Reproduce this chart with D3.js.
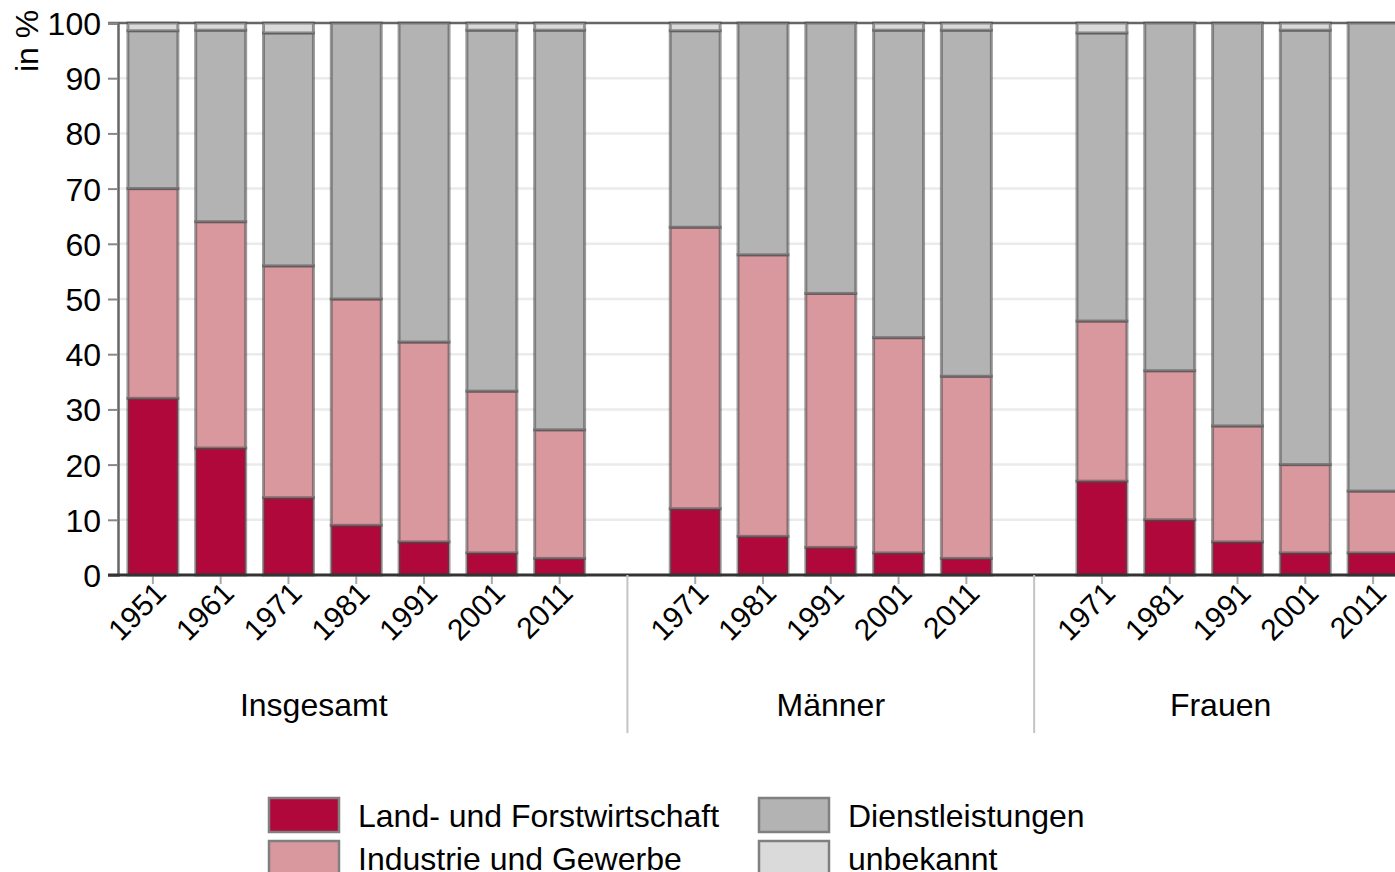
<!DOCTYPE html>
<html>
<head>
<meta charset="utf-8">
<script src="https://cdn.jsdelivr.net/npm/d3@7"></script>
<style>
  body { margin: 0; background: #fff; }
  svg { display: block; font-family: "Liberation Sans", Arial, sans-serif; }
</style>
</head>
<body>
<div class="chart"></div>
<script>
// data
var groups = ["Insgesamt", "Männer", "Frauen"];
var yearsInsgesamt = ["1951", "1961", "1971", "1981", "1991", "2001", "2011"];
var yearsMaenner = ["1971", "1981", "1991", "2001", "2011"];
var yearsFrauen = ["1971", "1981", "1991", "2001", "2011"];

var sectors = ["Land- und Forstwirtschaft", "Industrie und Gewerbe", "Dienstleistungen", "unbekannt"];

// shares in % (Insgesamt, Männer, Frauen in order)
var landForst   = [32, 23, 14, 9, 6, 4, 3,        12, 7, 5, 4, 3,        17, 10, 6, 4, 4];
var industrie   = [38, 41, 42, 41, 36.2, 29.3, 23.3,   51, 51, 46, 39, 33,   29, 27, 21, 16, 11.2];
var dienst      = [28.6, 34.7, 42.2, 50, 57.8, 65.4, 72.4,  35.6, 42, 49, 55.7, 62.7,  52.2, 63, 73, 78.7, 84.8];
var unbekannt   = [1.4, 1.3, 1.8, 0, 0, 1.3, 1.3,   1.4, 0, 0, 1.3, 1.3,   1.8, 0, 0, 1.3, 0];

var yTicks = [0, 10, 20, 30, 40, 50, 60, 70, 80, 90, 100];

var colors = ["#b0083b", "#d9979e", "#b3b3b3", "#dadada"];

// ************************************************************************************

var w = 1395;
var h = 872;
var plotTop = 23, plotBottom = 575;

// slots: bars plus one empty slot between the groups
var yearLists = [yearsInsgesamt, yearsMaenner, yearsFrauen];
var slots = [];
var rows = [];
var gapKeys = [];
var k = 0;
yearLists.forEach(function(list, g) {
    if (g > 0) {
        slots.push("gap" + g);
        gapKeys.push("gap" + g);
    }
    list.forEach(function(yr) {
        var key = g + "-" + yr;
        slots.push(key);
        rows.push({
            key: key,
            land: landForst[k],
            ind: industrie[k],
            dienst: dienst[k],
            unb: unbekannt[k]
        });
        k++;
    });
});

var scaleX = d3.scaleBand()
    .domain(slots)
    .range([119, 1407])
    .paddingInner(0.263)
    .paddingOuter(0.1315);

var scaleY = d3.scaleLinear()
    .domain([0, 100])
    .range([plotBottom, plotTop]);

var svg = d3.select(".chart")
    .append("svg")
    .attr("width", w)
    .attr("height", h);

// gridlines
svg.append("g")
    .selectAll("line")
    .data(yTicks.filter(function(d) { return d > 0 && d < 100; }))
    .enter()
    .append("line")
    .attr("x1", 118)
    .attr("x2", w)
    .attr("y1", function(d) { return scaleY(d); })
    .attr("y2", function(d) { return scaleY(d); })
    .attr("stroke", "#ebebeb")
    .attr("stroke-width", 2.5);

// top line
svg.append("line")
    .attr("x1", 108).attr("x2", w)
    .attr("y1", scaleY(100)).attr("y2", scaleY(100))
    .attr("stroke", "#666").attr("stroke-width", 2.5);

// bars
var stack = d3.stack().keys(["land", "ind", "dienst", "unb"]);
var series = stack(rows);

svg.append("g")
    .selectAll("g")
    .data(series)
    .enter()
    .append("g")
    .attr("fill", function(d, i) { return colors[i]; })
    .selectAll("rect")
    .data(function(d) { return d.filter(function(p) { return p[1] - p[0] > 0; }); })
    .enter()
    .append("rect")
    .attr("x", function(d) { return scaleX(d.data.key); })
    .attr("width", scaleX.bandwidth())
    .attr("y", function(d) { return scaleY(d[1]); })
    .attr("height", function(d) { return scaleY(d[0]) - scaleY(d[1]); })
    .attr("stroke", "#4a4a4a")
    .attr("stroke-opacity", 0.55)
    .attr("stroke-width", 3);

// y axis
var axisY = d3.axisLeft()
    .scale(scaleY)
    .tickValues(yTicks)
    .tickSize(10)
    .tickPadding(7);

var gy = svg.append("g")
    .attr("transform", "translate(118, 0)")
    .call(axisY);
gy.select(".domain").attr("stroke", "#666").attr("stroke-width", 2.5);
gy.selectAll(".tick line").attr("stroke", "#888").attr("stroke-width", 2);
gy.selectAll(".tick text")
    .attr("font-size", 32)
    .attr("font-family", "'Liberation Sans', Arial, sans-serif")
    .attr("fill", "#000")
    .attr("dy", "0.36em");

svg.append("text")
    .attr("transform", "translate(38, 72) rotate(-90)")
    .attr("font-size", 32)
    .attr("fill", "#000")
    .text("in %");

// x axis
var axisX = d3.axisBottom()
    .scale(scaleX)
    .tickValues(rows.map(function(d) { return d.key; }))
    .tickFormat(function(d) { return d.split("-")[1]; })
    .tickSize(9)
    .tickSizeOuter(0);

var gx = svg.append("g")
    .attr("transform", "translate(0, " + plotBottom + ")")
    .call(axisX);
gx.select(".domain").remove();
gx.selectAll(".tick line").attr("stroke", "#aaa").attr("stroke-width", 2);
gx.selectAll(".tick text")
    .attr("font-size", 30)
    .attr("font-family", "'Liberation Sans', Arial, sans-serif")
    .attr("fill", "#000")
    .attr("text-anchor", "end")
    .attr("x", 0)
    .attr("y", 0)
    .attr("dy", 0)
    .attr("transform", "translate(15, 20) rotate(-45)");

svg.append("line")
    .attr("x1", 108).attr("x2", w)
    .attr("y1", plotBottom).attr("y2", plotBottom)
    .attr("stroke", "#333").attr("stroke-width", 3);

// group separators
var gapX = gapKeys.map(function(g) { return scaleX(g) + scaleX.bandwidth() / 2; });

svg.append("g")
    .selectAll("line")
    .data(gapX)
    .enter()
    .append("line")
    .attr("x1", function(d) { return d; })
    .attr("x2", function(d) { return d; })
    .attr("y1", plotBottom)
    .attr("y2", 733)
    .attr("stroke", "#c4c4c4")
    .attr("stroke-width", 2);

var bounds = [0].concat(gapX).concat([scaleX.range()[1]]);

svg.append("g")
    .selectAll("text")
    .data(groups)
    .enter()
    .append("text")
    .attr("x", function(d, i) { return (bounds[i] + bounds[i + 1]) / 2; })
    .attr("y", 716)
    .attr("text-anchor", "middle")
    .attr("font-size", 32)
    .attr("fill", "#000")
    .text(function(d) { return d; });

// legend
var legendPos = [[268, 797], [268, 840], [758, 797], [758, 840]];
var legendOrder = [0, 1, 2, 3];

var legend = svg.append("g")
    .selectAll("g")
    .data(legendOrder)
    .enter()
    .append("g")
    .attr("transform", function(d) { return "translate(" + legendPos[d][0] + "," + legendPos[d][1] + ")"; });

legend.append("rect")
    .attr("x", 1)
    .attr("y", 1)
    .attr("width", 70)
    .attr("height", 34)
    .attr("fill", function(d) { return colors[d]; })
    .attr("stroke", "#808080")
    .attr("stroke-width", 2.5);

legend.append("text")
    .attr("x", 90)
    .attr("y", 30)
    .attr("font-size", 32)
    .attr("fill", "#000")
    .text(function(d) { return sectors[d]; });
</script>
</body>
</html>
